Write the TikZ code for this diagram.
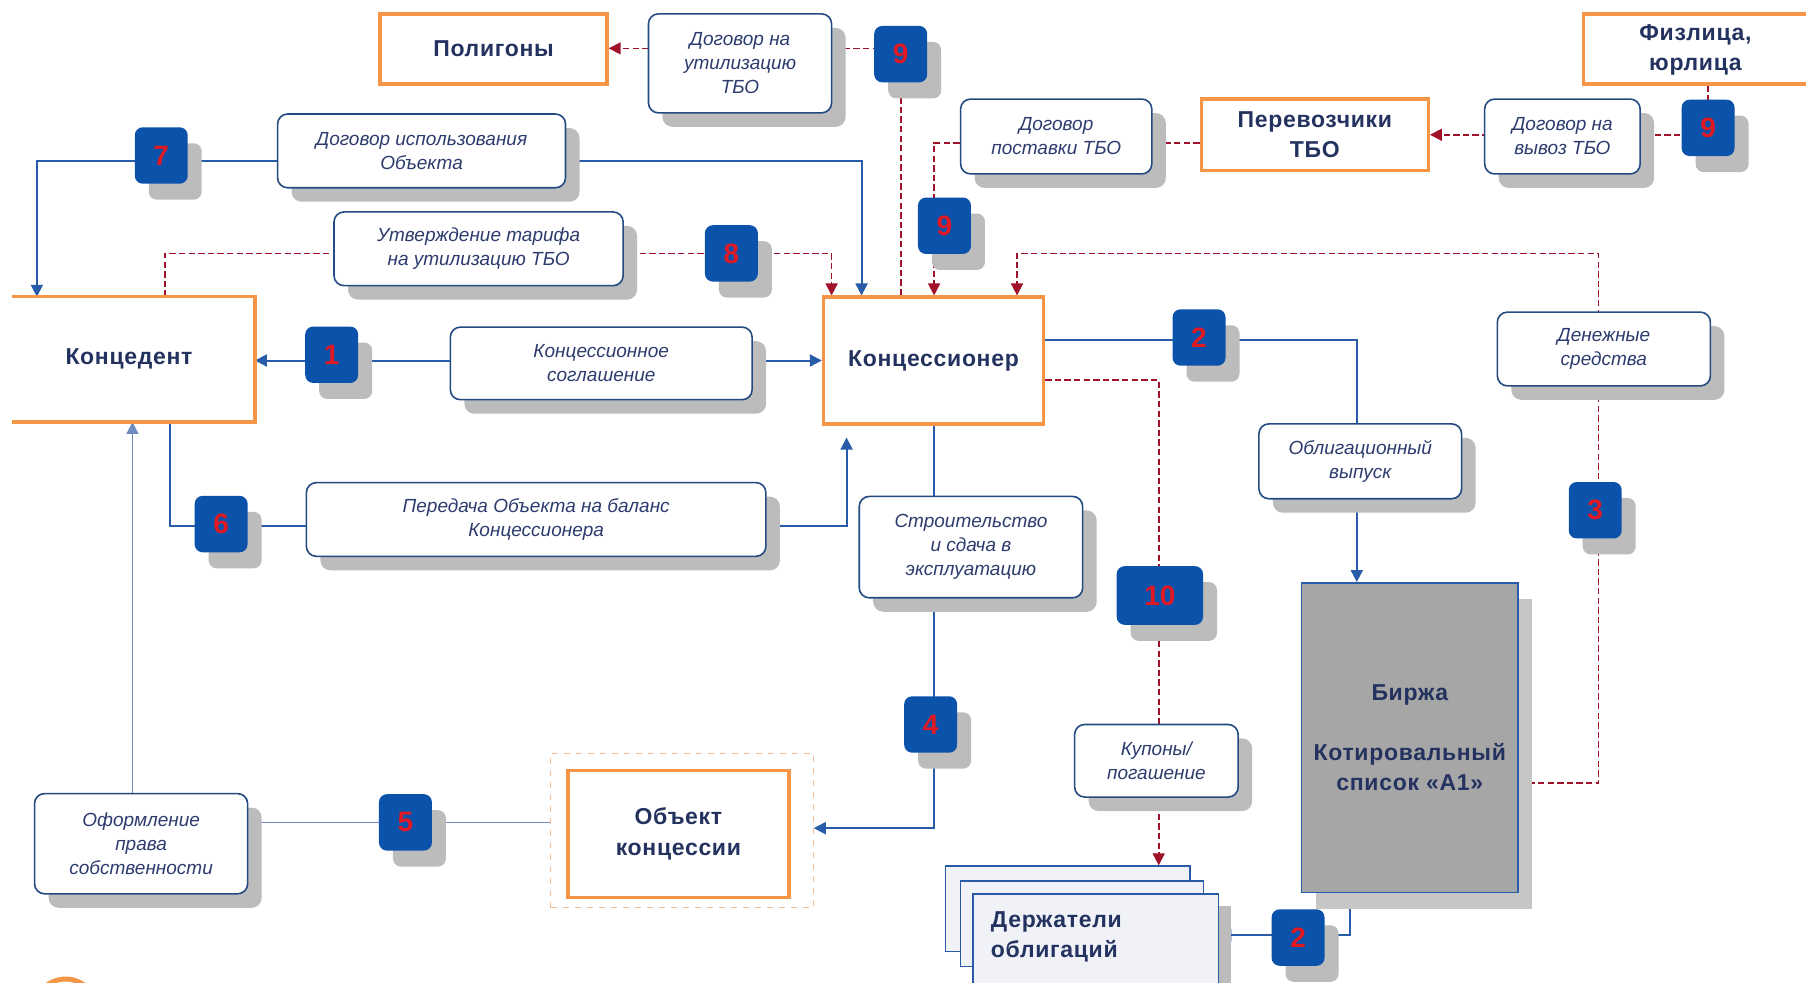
\documentclass[tikz,border=0pt]{standalone}
\usepackage{fontspec}
\setmainfont{Liberation Sans}
\newfontfamily\hdfont[LetterSpace=3]{Liberation Sans}
\usetikzlibrary{arrows.meta,shadows}
\definecolor{orng}{RGB}{245,150,70}
\definecolor{orngl}{RGB}{248,190,150}
\definecolor{navy}{RGB}{35,50,95}
\definecolor{labtxt}{RGB}{45,60,110}
\definecolor{edge}{RGB}{35,75,130}
\definecolor{badgeblue}{RGB}{10,82,170}
\definecolor{numred}{RGB}{225,25,35}
\definecolor{flow}{RGB}{40,92,168}
\definecolor{flowl}{RGB}{110,140,190}
\definecolor{dashred}{RGB}{160,18,42}
\definecolor{shade}{RGB}{188,188,188}
\definecolor{exch}{RGB}{166,166,166}
\definecolor{holder}{RGB}{240,242,247}
\def\pxu{0.576pt}
\pgfdeclarelayer{bg}
\pgfsetlayers{bg,main}
\tikzset{
  sz/.style 2 args={minimum width={#1*\pxu},minimum height={#2*\pxu}},
  btext/.style={inner sep=0pt, align=center, text=navy,
    font=\hdfont\bfseries\fontsize{11.5}{15}\selectfont},
  obox/.style={btext, draw=orng, line width=1.7pt, fill=white},
  lbox/.style={draw=edge, line width=0.8pt, rounded corners=5pt, fill=white,
    inner sep=0pt, align=center, text=labtxt,
    font=\itshape\fontsize{9.5}{12}\selectfont,
    drop shadow={shadow xshift=7pt, shadow yshift=-7pt, fill=shade, opacity=1}},
  badge/.style={fill=badgeblue, rounded corners=4pt, inner sep=0pt, sz={46}{49},
    text=numred, font=\bfseries\fontsize{14}{14}\selectfont,
    drop shadow={shadow xshift=7pt, shadow yshift=-8pt, fill=shade, opacity=1}},
  hold/.style={draw=flow, line width=0.8pt, fill=holder, inner sep=0pt},
  bl/.style={draw=flow, line width=1pt},
  bll/.style={draw=flowl, line width=0.8pt},
  rd/.style={draw=dashred, line width=0.8pt, dash pattern=on 3.2pt off 1.6pt},
}
\begin{document}
\begin{tikzpicture}[x=0.576pt, y=-0.576pt,
  >={Triangle[length=6pt,width=6pt]}]
\useasboundingbox (0,0) rectangle (1568,853);

% parties
\node[obox, sz={197}{61}] (pol) at (428.5,42.5) {Полигоны};
\node[obox, sz={225}{61}] (fiz) at (1487.5,42.5) {};
\node[btext] (fizt) at (1472,43) {Физлица,\\юрлица};
\node[obox, sz={197}{62}] (per) at (1141.5,117) {Перевозчики\\ТБО};
\node[btext, fill=white, sz={210}{108}] (ked) at (116,312) {};
\draw[orng, line width=1.7pt] (ked.north west) -- (ked.north east)
  -- (ked.south east) -- (ked.south west);
\node[btext] (kedt) at (112,312) {Концедент};
\node[obox, sz={191}{110}] (ker) at (810.5,313) {Концессионер};
\node[draw=orngl, dashed, line width=0.6pt, sz={228}{134}] (objo) at (592,721) {};
\node[obox, sz={192}{110}, font=\hdfont\bfseries\fontsize{11.5}{15.5}\selectfont] (obj) at (589,724) {Объект\\концессии};

% exchange
\node[draw=flow, line width=0.8pt, fill=exch, sz={188}{269}, btext,
  drop shadow={shadow xshift=7pt, shadow yshift=-8pt, fill=shade!85, opacity=1}]
  (bir) at (1224,640.5) {Биржа\\[15pt]Котировальный\\список «А1»};

% bond holders
\node[hold, sz={212}{74}] (hback) at (927,789) {};
\node[hold, sz={211}{74}] (hmid) at (939.5,802) {};
\node[hold, sz={213}{84},
  drop shadow={shadow xshift=6pt, shadow yshift=-6pt, fill=shade, opacity=1}]
  (hfront) at (951.5,818) {};
\node[btext, anchor=west, align=left] (hold) at (860,813) {Держатели\\облигаций};

% agreement labels
\node[lbox, sz={159}{86}] (Lutil) at (642.5,55) {Договор на\\утилизацию\\ТБО};
\node[lbox, sz={250}{64}] (Lisp) at (366,131) {Договор использования\\Объекта};
\node[lbox, sz={251}{64}] (Ltar) at (415.5,216) {Утверждение тарифа\\на утилизацию ТБО};
\node[lbox, sz={166}{65}] (Lpost) at (917,118.5) {Договор\\поставки ТБО};
\node[lbox, sz={135}{65}] (Lvyv) at (1356.5,118.5) {Договор на\\вывоз ТБО};
\node[lbox, sz={262}{63}] (Lsogl) at (522,315.5) {Концессионное\\соглашение};
\node[lbox, sz={185}{64}] (Lden) at (1392.5,303) {Денежные\\средства};
\node[lbox, sz={176}{65}] (Lobl) at (1181,400.5) {Облигационный\\выпуск};
\node[lbox, sz={399}{64}] (Lper) at (465.5,451) {Передача Объекта на баланс\\Концессионера};
\node[lbox, sz={194}{88}] (Lstr) at (843,475) {Строительство\\и сдача в\\эксплуатацию};
\node[lbox, sz={142}{63}] (Lkup) at (1004,660.5) {Купоны/\\погашение};
\node[lbox, sz={185}{87}] (Lofo) at (122.5,732.5) {Оформление\\права\\собственности};

% step numbers
\node[badge] (b9a) at (782,47) {9};
\node[badge] (b7) at (140,135) {7};
\node[badge] (b8) at (635,220) {8};
\node[badge] (b9b) at (820,196) {9};
\node[badge] (b9c) at (1483,111) {9};
\node[badge] (b1) at (288,308) {1};
\node[badge] (b2a) at (1041,293) {2};
\node[badge] (b6) at (192,455) {6};
\node[badge] (b3) at (1385,443) {3};
\node[badge, sz={75}{51}] (b10) at (1007,517) {10};
\node[badge] (b4) at (808,629) {4};
\node[badge] (b5) at (352,714) {5};
\node[badge] (b2b) at (1127,814) {2};

% route corners
\coordinate (c7l) at (32,140);
\coordinate (c7r) at (748,140);
\coordinate (c6a) at (148,457);
\coordinate (c6b) at (735,457);
\coordinate (c4) at (811,719);
\coordinate (c5) at (115,714);
\coordinate (c2) at (1178,295);
\coordinate (c2b) at (1172,812);
\coordinate (c9a) at (782,42);
\coordinate (c8a) at (143,220);
\coordinate (c8b) at (722,220);
\coordinate (c9b) at (811,124);
\coordinate (c9c) at (1483,117);
\coordinate (c3a) at (1388,680);
\coordinate (c3b) at (1388,220);
\coordinate (c3c) at (883,220);
\coordinate (c10) at (1006,330);

\begin{pgfonlayer}{bg}
  % solid flows
  \draw[bl,<->] (ked.east |- ker.west) -- (ker.west);
  \draw[bl,<->] (c7l |- ked.north) -- (c7l) -- (c7r) -- (c7r |- ker.north);
  \draw[bl,->,shorten >=6pt] (c6a |- ked.south) -- (c6a) -- (c6b) -- (c6b |- ker.south);
  \draw[bl,->] (c4 |- ker.south) -- (c4) -- (c4 -| objo.east);
  \draw[bll] (objo.west |- c5) -- (Lofo.east |- c5);
  \draw[bll,->] (Lofo.north -| c5) -- (c5 |- ked.south);
  \draw[bl,->] (ker.east |- c2) -- (c2) -- (c2 |- bir.north);
  \draw[bl,->] (c2b |- bir.south) -- (c2b) -- (c2b -| hfront.east);
  % dashed flows
  \draw[rd,->] (c9a |- ker.north) -- (c9a) -- (pol.east |- c9a);
  \draw[rd,->] (c8a |- ked.north) -- (c8a) -- (c8b) -- (c8b |- ker.north);
  \draw[rd,->] (per.west |- c9b) -- (c9b) -- (c9b |- ker.north);
  \draw[rd,->] (c9c |- fiz.south) -- (c9c) -- (per.east |- c9c);
  \draw[rd,->] (bir.east |- c3a) -- (c3a) -- (c3b) -- (c3c) -- (c3c |- ker.north);
  \draw[rd,->] (ker.east |- c10) -- (c10) -- (c10 |- hback.north);
\end{pgfonlayer}

% corner mark
\draw[orng, line width=2.5pt] (57,877) circle[radius={27*\pxu}];
\end{tikzpicture}
\end{document}
